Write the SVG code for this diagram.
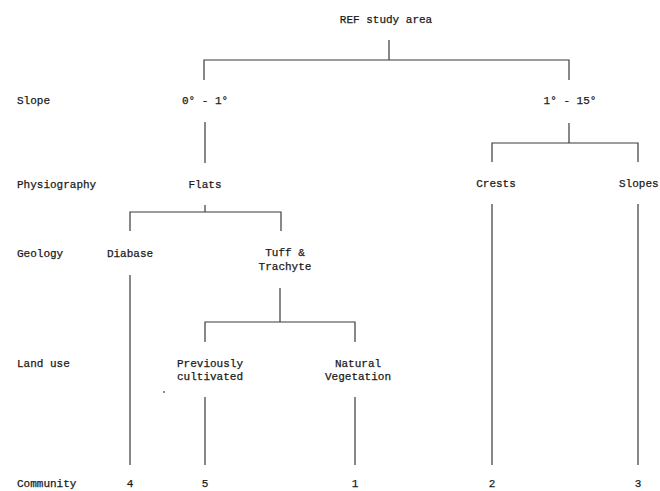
<svg xmlns="http://www.w3.org/2000/svg" width="660" height="491" viewBox="0 0 660 491">
<style>
text{font-family:"Liberation Mono","Courier New",monospace;font-size:11px;fill:#1a1a1a;stroke:#1a1a1a;stroke-width:0.25}
.c{text-anchor:middle}
.ln{fill:none;stroke:#3a3a3a;stroke-width:1.2}
</style>
<rect width="660" height="491" fill="#fff"/>
<g id="levels">
<text x="17" y="104">Slope</text>
<text x="17" y="188">Physiography</text>
<text x="17" y="257">Geology</text>
<text x="17" y="367">Land use</text>
<text x="17" y="487">Community</text>
</g>
<g id="root"><text class="c" x="386" y="23">REF study area</text></g>
<g id="slope01"><text class="c" x="205" y="104">0° - 1°</text></g>
<g id="slope115"><text class="c" x="570" y="104">1° - 15°</text></g>
<g id="flats"><text class="c" x="205" y="188">Flats</text></g>
<g id="crests"><text class="c" x="496" y="187">Crests</text></g>
<g id="slopes"><text x="619" y="187">Slopes</text></g>
<g id="diabase"><text class="c" x="130" y="257">Diabase</text></g>
<g id="tuff"><text class="c" x="285" y="256">Tuff &amp;</text><text class="c" x="285" y="270">Trachyte</text></g>
<g id="prevcult"><text class="c" x="210" y="367">Previously</text><text class="c" x="210" y="380">cultivated</text></g>
<g id="natveg"><text class="c" x="358" y="367">Natural</text><text class="c" x="358" y="380">Vegetation</text></g>
<g id="c4"><text class="c" x="130" y="487">4</text></g>
<g id="c5"><text class="c" x="205" y="487">5</text></g>
<g id="c1"><text class="c" x="355" y="487">1</text></g>
<g id="c2"><text class="c" x="492" y="487">2</text></g>
<g id="c3"><text class="c" x="638" y="487">3</text></g>
<g id="connectors" class="ln">
<path class="ln" d="M389 40V60M204 80V60H569V80"/>
<path class="ln" d="M205 122V163"/>
<path class="ln" d="M569 123V143M492 162V143H638V162"/>
<path class="ln" d="M205 205V212M130 231V212H281V231"/>
<path class="ln" d="M492 204V465M638 204V465"/>
<path class="ln" d="M130 275V465"/>
<path class="ln" d="M280 288V322M205 342V322H355V342"/>
<path class="ln" d="M205 397V465M355 397V465"/>
</g>
<circle cx="164" cy="392" r="0.9" fill="#555"/>
</svg>
